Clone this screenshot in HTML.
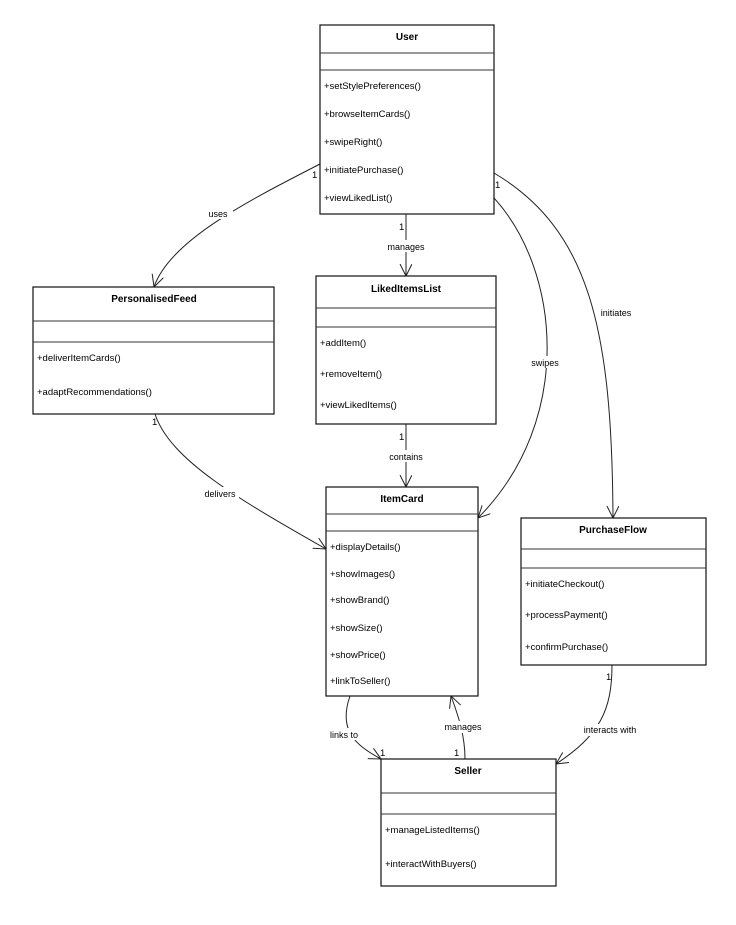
<!DOCTYPE html>
<html><head><style>
body{margin:0;background:#fff;width:736px;height:920px;overflow:hidden}
svg{font-family:"Liberation Sans",Arial,sans-serif}
.b{fill:#fff;stroke:#111;stroke-width:1.2}
.d{stroke:#333;stroke-width:1}
.t{font-size:10px;font-weight:bold;text-anchor:middle}
.m{font-size:9.5px}
.c{fill:none;stroke:#222;stroke-width:1}
.l{font-size:9px;text-anchor:middle}
.lb{fill:#fff}
.n{font-size:9.5px}
</style></head><body>
<svg width="736" height="920" viewBox="0 0 736 920">
<defs><marker id="a" markerWidth="14" markerHeight="14" refX="12" refY="6" orient="auto" markerUnits="userSpaceOnUse"><path d="M0,0 L12,6 L0,12" fill="none" stroke="#222" stroke-width="1"/></marker></defs>

<!-- connectors -->
<path class="c" d="M320,164 C250,200 170,240 154,287" marker-end="url(#a)"/>
<path class="c" d="M406,214 L406,276" marker-end="url(#a)"/>
<path class="c" d="M494,198 C560,270 575,420 478,518" marker-end="url(#a)"/>
<path class="c" d="M494,173 C590,230 612,330 613,518" marker-end="url(#a)"/>
<path class="c" d="M406,424 L406,487" marker-end="url(#a)"/>
<path class="c" d="M155,414 C170,460 240,500 326,549" marker-end="url(#a)"/>
<path class="c" d="M350,696 C338,730 355,745 381,759" marker-end="url(#a)"/>
<path class="c" d="M465,759 C465,735 458,715 451,696" marker-end="url(#a)"/>
<path class="c" d="M612,665 C612,710 600,735 556,764" marker-end="url(#a)"/>

<rect class="lb" x="203" y="207" width="30" height="12"/><text class="l" x="218" y="217">uses</text>
<rect class="lb" x="383" y="240" width="46" height="12"/><text class="l" x="406" y="250">manages</text>
<rect class="lb" x="530" y="356" width="30" height="12"/><text class="l" x="545" y="366">swipes</text>
<rect class="lb" x="598" y="306" width="36" height="12"/><text class="l" x="616" y="316">initiates</text>
<rect class="lb" x="384" y="450" width="44" height="12"/><text class="l" x="406" y="460">contains</text>
<rect class="lb" x="201" y="487" width="38" height="12"/><text class="l" x="220" y="497">delivers</text>
<rect class="lb" x="326" y="728" width="36" height="12"/><text class="l" x="344" y="738">links to</text>
<rect class="lb" x="441" y="721" width="44" height="12"/><text class="l" x="463" y="730">manages</text>
<rect class="lb" x="581" y="724" width="58" height="12"/><text class="l" x="610" y="733">interacts with</text>

<text class="n" x="312" y="178">1</text>
<text class="n" x="480" y="211">1</text>
<text class="n" x="495" y="188">1</text>
<text class="n" x="399" y="230">1</text>
<text class="n" x="399" y="440">1</text>
<text class="n" x="152" y="425">1</text>
<text class="n" x="380" y="756">1</text>
<text class="n" x="454" y="756">1</text>
<text class="n" x="606" y="680">1</text>

<!-- User -->
<rect class="b" x="320" y="25" width="174" height="189"/>
<line class="d" x1="320" y1="53" x2="494" y2="53"/><line class="d" x1="320" y1="70" x2="494" y2="70"/>
<text class="t" x="407" y="40">User</text>
<text class="m" x="324" y="89">+setStylePreferences()</text>
<text class="m" x="324" y="117">+browseItemCards()</text>
<text class="m" x="324" y="145">+swipeRight()</text>
<text class="m" x="324" y="173">+initiatePurchase()</text>
<text class="m" x="324" y="201">+viewLikedList()</text>

<!-- PersonalisedFeed -->
<rect class="b" x="33" y="287" width="241" height="127"/>
<line class="d" x1="33" y1="321" x2="274" y2="321"/><line class="d" x1="33" y1="342" x2="274" y2="342"/>
<text class="t" x="154" y="302">PersonalisedFeed</text>
<text class="m" x="37" y="361">+deliverItemCards()</text>
<text class="m" x="37" y="395">+adaptRecommendations()</text>

<!-- LikedItemsList -->
<rect class="b" x="316" y="276" width="180" height="148"/>
<line class="d" x1="316" y1="308" x2="496" y2="308"/><line class="d" x1="316" y1="327" x2="496" y2="327"/>
<text class="t" x="406" y="292">LikedItemsList</text>
<text class="m" x="320" y="346">+addItem()</text>
<text class="m" x="320" y="377">+removeItem()</text>
<text class="m" x="320" y="408">+viewLikedItems()</text>

<!-- ItemCard -->
<rect class="b" x="326" y="487" width="152" height="209"/>
<line class="d" x1="326" y1="514" x2="478" y2="514"/><line class="d" x1="326" y1="531" x2="478" y2="531"/>
<text class="t" x="402" y="502">ItemCard</text>
<text class="m" x="330" y="550">+displayDetails()</text>
<text class="m" x="330" y="577">+showImages()</text>
<text class="m" x="330" y="603">+showBrand()</text>
<text class="m" x="330" y="631">+showSize()</text>
<text class="m" x="330" y="658">+showPrice()</text>
<text class="m" x="330" y="684">+linkToSeller()</text>

<!-- PurchaseFlow -->
<rect class="b" x="521" y="518" width="185" height="147"/>
<line class="d" x1="521" y1="549" x2="706" y2="549"/><line class="d" x1="521" y1="568" x2="706" y2="568"/>
<text class="t" x="613" y="533">PurchaseFlow</text>
<text class="m" x="525" y="587">+initiateCheckout()</text>
<text class="m" x="525" y="618">+processPayment()</text>
<text class="m" x="525" y="650">+confirmPurchase()</text>

<!-- Seller -->
<rect class="b" x="381" y="759" width="175" height="127"/>
<line class="d" x1="381" y1="793" x2="556" y2="793"/><line class="d" x1="381" y1="814" x2="556" y2="814"/>
<text class="t" x="468" y="774">Seller</text>
<text class="m" x="385" y="833">+manageListedItems()</text>
<text class="m" x="385" y="867">+interactWithBuyers()</text>
</svg>
</body></html>
